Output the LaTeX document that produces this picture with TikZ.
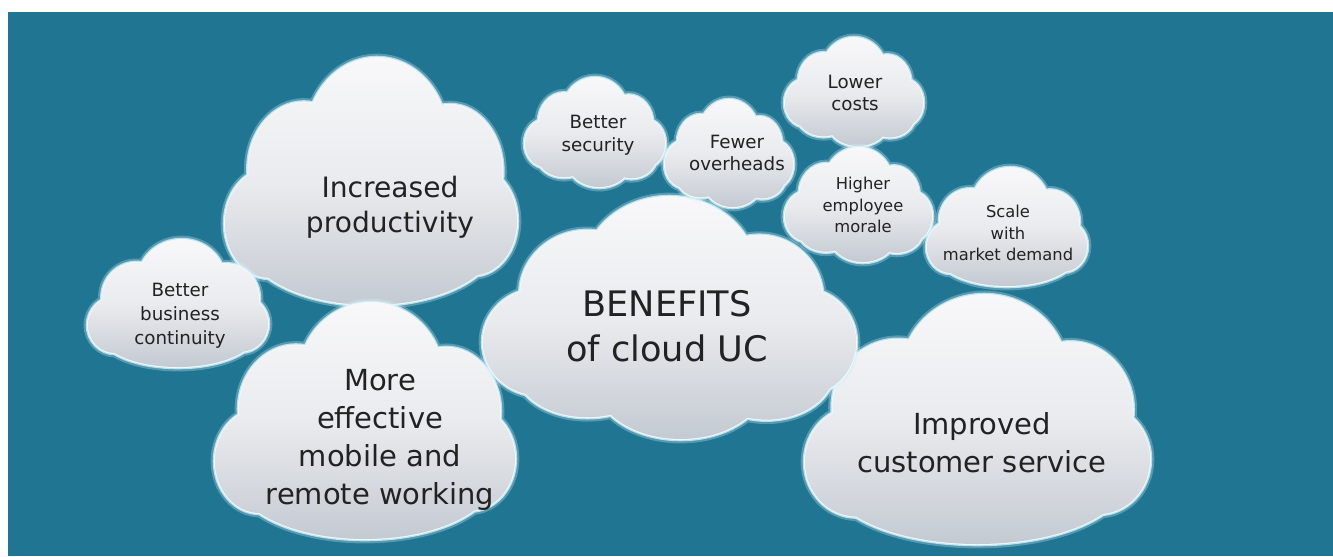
\documentclass[tikz,border=0pt]{standalone}
\usepackage{fontspec}
\setmainfont{DejaVu Sans}
\usepackage{xcolor}
\usepackage{tikz}
\definecolor{oceanteal}{RGB}{31,117,146}
\definecolor{mistwhite}{RGB}{248,248,250}
\definecolor{mistmid}{RGB}{234,235,238}
\definecolor{mistgrey}{RGB}{196,202,210}
\definecolor{rimcyan}{RGB}{214,242,251}
\definecolor{inkgrey}{RGB}{34,34,34}

% puffs of a cloud in a unit box (v runs downwards)
\newcommand{\flatpuffs}{(0.52,0.32) ellipse (0.24 and 0.32)
  (0.27,0.45) ellipse (0.19 and 0.27) (0.77,0.46) ellipse (0.18 and 0.27)
  (0.15,0.67) ellipse (0.15 and 0.22) (0.85,0.66) ellipse (0.15 and 0.22)
  (0.50,0.74) ellipse (0.43 and 0.26) (0.50,0.58) ellipse (0.38 and 0.32)}
\newcommand{\bumpypuffs}{(0.50,0.31) ellipse (0.23 and 0.31)
  (0.28,0.40) ellipse (0.18 and 0.26) (0.74,0.42) ellipse (0.17 and 0.26)
  (0.15,0.60) ellipse (0.15 and 0.22) (0.86,0.60) ellipse (0.14 and 0.22)
  (0.28,0.72) ellipse (0.19 and 0.19) (0.53,0.76) ellipse (0.23 and 0.24)
  (0.76,0.72) ellipse (0.18 and 0.20) (0.50,0.57) ellipse (0.40 and 0.31)}

\tikzset{
  glowwide/.style={draw=rimcyan, line width=5pt, opacity=0.3},
  glowthin/.style={draw=rimcyan, line width=2.6pt, opacity=0.8},
  rimline/.style={draw=white!60!rimcyan, line width=1.2pt},
  puffshade/.style={top color=mistwhite, bottom color=mistgrey, middle color=mistmid},
  bigtext/.style={align=center, text=inkgrey, font=\fontsize{16.5}{21.5}\selectfont},
  smalltext/.style={align=center, text=inkgrey, font=\fontsize{10.4}{13}\selectfont},
  tinytext/.style={align=center, text=inkgrey, font=\fontsize{9.3}{12.3}\selectfont}
}

\begin{document}
\begin{tikzpicture}[x=0.02cm, y=-0.02cm]
\fill[white] (0,0) rectangle (1333,556);
\fill[oceanteal] (8,12) rectangle (1333,556);
\useasboundingbox (0,0) rectangle (1333,556);

% flat-bottomed clouds
\foreach \l/\t/\w/\h in {225/58/292/247, 215/303/300/236, 805/295/345/249,
    88/240/180/127, 927/168/160/118} {
  \begin{scope}[shift={(\l,\t)}, xscale=\w, yscale=\h]
    \draw[glowwide] \flatpuffs;
    \draw[glowthin] \flatpuffs;
    \draw[rimline] \flatpuffs;
    \begin{scope}
      \clip \flatpuffs;
      \shade[puffshade] (0,0) rectangle (1,1);
    \end{scope}
  \end{scope}
}

% bumpy clouds
\foreach \l/\t/\w/\h in {483/197/373/242, 525/78/140/109, 665/100/128/107,
    785/38/138/108, 785/148/147/114} {
  \begin{scope}[shift={(\l,\t)}, xscale=\w, yscale=\h]
    \draw[glowwide] \bumpypuffs;
    \draw[glowthin] \bumpypuffs;
    \draw[rimline] \bumpypuffs;
    \begin{scope}
      \clip \bumpypuffs;
      \shade[puffshade] (0,0) rectangle (1,1);
    \end{scope}
  \end{scope}
}

\node[bigtext, font=\fontsize{16}{20}\selectfont] (productivity) at (390,207) {Increased\\productivity};
\node[bigtext] (mobile) at (380,440) {More\\effective\\mobile and\\remote working};
\node[bigtext] (service) at (982,443) {Improved\\customer service};
\node[bigtext, font=\fontsize{20}{25.5}\selectfont] (benefits) at (667,326) {BENEFITS\\of cloud UC};
\node[smalltext, font=\fontsize{10.4}{13.6}\selectfont] (continuity) at (180,316) {Better\\business\\continuity};
\node[smalltext] (security) at (598,135) {Better\\security};
\node[smalltext] (overheads) at (737,153) {Fewer\\overheads};
\node[smalltext] (costs) at (855,93) {Lower\\costs};
\node[tinytext] (morale) at (863,205) {Higher\\employee\\morale};
\node[tinytext] (scale) at (1008,233) {Scale\\with\\market demand};
\end{tikzpicture}
\end{document}
